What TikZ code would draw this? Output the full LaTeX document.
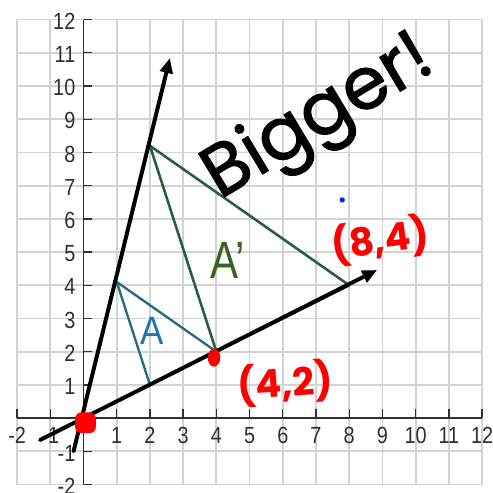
\documentclass[tikz,border=0pt]{standalone}
\usepackage{fontspec}
\setmainfont{Liberation Sans}
\newfontfamily\hand{Poppins}
\newfontfamily\handthick{Poppins}[FakeBold=1.6]
\usetikzlibrary{arrows.meta}
\definecolor{gridgray}{HTML}{D3D3D3}
\definecolor{axisgray}{HTML}{303030}
\definecolor{tealA}{HTML}{2A6A80}
\definecolor{labelA}{HTML}{1F74AA}
\definecolor{greenA}{HTML}{2A5C40}
\definecolor{labelAp}{HTML}{3A6222}
\definecolor{handred}{HTML}{FF0000}
\definecolor{dotblue}{HTML}{0A1EFF}
\newcommand{\ticktext}[1]{\scalebox{0.85}[1]{#1}}
\tikzset{
  gridline/.style={draw=gridgray, line width=1.5pt},
  axisline/.style={draw=axisgray, line width=1.2pt},
  ticklab/.style={font=\fontsize{20}{20}\selectfont, text=axisgray, inner sep=0pt},
  triA/.style={draw=tealA, line width=2pt, line join=round},
  triAp/.style={draw=greenA, line width=2.2pt, line join=round},
  rayline/.style={draw=black, line width=3.4pt, line cap=round, -{Triangle[length=0.45cm,width=0.38cm]}},
  redlab/.style={text=handred, font=\hand\bfseries\fontsize{33}{33}\selectfont, inner sep=0pt},
}
\begin{document}
\begin{tikzpicture}
\useasboundingbox[fill=white] (-2.515,-2.23) rectangle (12.33,12.59);
% grid
\foreach \i in {-2,...,12} {
  \draw[gridline] (\i,-2) -- (\i,12);
  \draw[gridline] (-2,\i) -- (12,\i);
}
% axes
\draw[axisline] (-2,0) -- (12,0);
\draw[axisline] (0,-2) -- (0,12);
\foreach \i in {-2,...,12} {
  \draw[axisline] (\i,0) -- (\i,0.27);
  \draw[axisline] (0,\i) -- (0.27,\i);
}
\foreach \i in {-2,-1,1,2,3,4,5,6,7,8,9,10,11,12} {
  \node[ticklab] (xl\i) at (\i,-0.52) {\ticktext{\i}};
  \node[ticklab, anchor=east] (yl\i) at (-0.24,\i-0.05) {\ticktext{\i}};
}
% vertices
\coordinate (a1) at (1,4.1);
\coordinate (a2) at (2,1);
\coordinate (a3) at (4,2);
\coordinate (b1) at (2,8.2);
\coordinate (b3) at (8,4);
\coordinate (o) at (0,0);
% triangles
\draw[triA] (a1) -- (a2) -- (a3) -- cycle;
\draw[triAp] (b1) -- (a3) -- (b3) -- cycle;
% rays
\coordinate (s1) at (-0.3,-1);
\coordinate (e1) at (2.6,10.84);
\coordinate (s2) at (-1.31,-0.66);
\coordinate (e2) at (8.84,4.46);
\draw[rayline] (s1) -- (e1);
\draw[rayline] (s2) -- (e2);
% red dots
\fill[handred, rounded corners=0.2cm] (-0.255,-0.455) rectangle (0.375,0.175);
\fill[handred] (3.93,1.82) ellipse [x radius=0.19cm, y radius=0.27cm];
\fill[dotblue] (7.79,6.57) circle (0.08cm);
% labels
\node[text=labelA, inner sep=0pt, font=\fontsize{34}{34}\selectfont] (labA) at (2.07,2.62) {\scalebox{0.88}[1]{A}};
\node[text=labelAp, inner sep=0pt, font=\fontsize{45}{45}\selectfont] (labAp) at (4.33,4.76) {\scalebox{0.8}[1]{A’}};
\node[redlab, rotate=8] (p84) at (8.93,5.36) {(8,4)};
\node[redlab, rotate=4] (p42) at (6.07,1.05) {(4,2)};
\node[text=black, inner sep=0pt, font=\handthick\fontsize{62}{62}\selectfont, rotate=31] (big) at (7.1,9.0) {Bigger!};
\end{tikzpicture}
\end{document}
